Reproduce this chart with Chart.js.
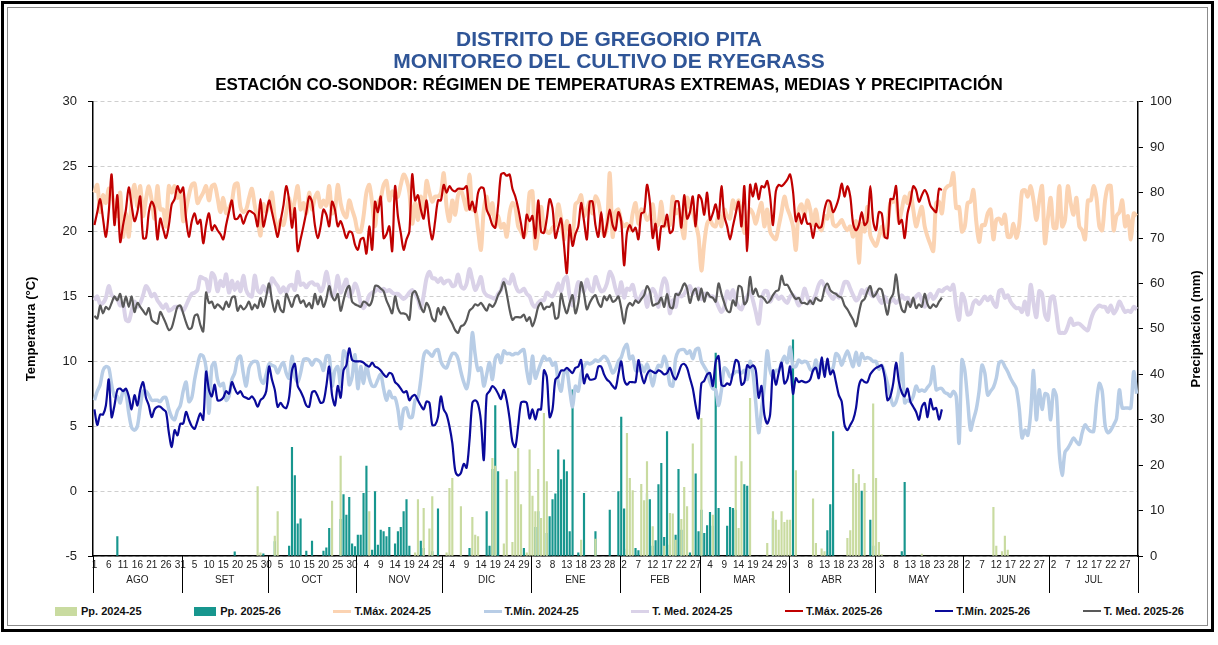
<!DOCTYPE html>
<html>
<head>
<meta charset="utf-8">
<script src="https://cdn.jsdelivr.net/npm/chart.js@4.4.1/dist/chart.umd.min.js"></script>
<style>
  html, body { margin: 0; padding: 0; background: #fff; }
  body { width: 1218px; height: 645px; position: relative; overflow: hidden; font-family: 'Liberation Sans', Arial, sans-serif; }
  .frame { position: absolute; left: 1px; top: 1px; width: 1207px; height: 625px; border: 3px solid #000; }
  .frame-inner { position: absolute; left: 3px; top: 3px; right: 3px; bottom: 3px; border: 1px solid #8c8c8c; }
  #chart { position: absolute; left: 0; top: 0; }
  #legend { position: absolute; left: 55px; right: 34px; top: 605px; display: flex; justify-content: space-between; align-items: center;
            font: bold 11px 'Liberation Sans Narrow', 'Liberation Sans', Arial, sans-serif; color: #111; }
  #legend .item { display: flex; align-items: center; white-space: nowrap; }
  #legend .sw-bar { display: inline-block; width: 22px; height: 9px; margin-right: 4px; }
  #legend .sw-line { display: inline-block; width: 18px; margin-right: 3px; }
</style>
</head>
<body>
<div class="frame"><div class="frame-inner"></div></div>
<canvas id="chart" width="1218" height="600"></canvas>
<div id="legend"></div>
<script>
const monthNames = ['AGO', 'SET', 'OCT', 'NOV', 'DIC', 'ENE', 'FEB', 'MAR', 'ABR', 'MAY', 'JUN', 'JUL'];
const monthDays = [31, 30, 31, 30, 31, 31, 28, 31, 30, 31, 30, 31];

// campaña 2024-25 (365 días, 1 ago - 31 jul)
const tMax24 = [
  23.0, 23.6, 21.5, 22.8, 22.2, 23.3, 23.0, 21.8, 21.2, 23.0,
  19.6, 21.4, 19.6, 22.4, 23.6, 21.9, 23.5, 21.2, 22.5, 23.5,
  22.4, 21.0, 23.5, 21.7, 21.7, 20.4, 23.5, 23.0, 23.5, 22.6,
  23.1, 20.8, 21.7, 22.8, 23.6, 23.7, 22.2, 22.6, 23.0, 23.5,
  22.4, 23.5, 23.6, 22.6, 21.5, 22.6, 21.4, 21.8, 22.3, 23.6,
  23.7, 21.9, 21.5, 21.7, 22.6, 23.3, 22.0, 20.9, 19.7, 22.1,
  21.5, 22.2, 23.0, 21.0, 20.0, 20.9, 20.5, 21.5, 22.6, 21.4,
  22.4, 23.5, 21.7, 22.2, 21.4, 23.0, 21.7, 22.6, 23.0, 21.9,
  22.4, 22.0, 23.5, 21.4, 21.7, 23.6, 22.2, 21.4, 21.1, 22.4,
  21.7, 21.0, 20.0, 20.0, 21.2, 23.0, 23.6, 22.2, 20.4, 22.2,
  22.6, 23.6, 23.9, 22.4, 23.1, 22.7, 22.7, 23.6, 24.4, 24.0,
  23.0, 20.6, 22.2, 20.9, 22.7, 21.4, 23.9, 23.0, 22.3, 22.7,
  22.7, 23.0, 24.5, 21.9, 20.8, 22.4, 21.3, 22.8, 23.2, 22.5,
  21.7, 24.4, 21.7, 21.7, 20.1, 18.6, 21.7, 22.7, 21.3, 22.2,
  20.4, 21.2, 20.3, 20.6, 19.6, 21.4, 22.2, 21.9, 20.4, 20.0,
  19.6, 20.4, 23.0, 23.1, 18.7, 19.9, 21.9, 20.4, 20.0, 19.9,
  20.3, 20.5, 22.1, 21.0, 19.4, 20.8, 20.0, 19.6, 22.1, 22.3,
  22.8, 21.2, 21.7, 22.3, 21.4, 22.7, 22.3, 21.0, 19.7, 20.4,
  24.5, 19.6, 21.5, 21.7, 20.8, 20.4, 20.6, 20.1, 21.4, 22.2,
  20.6, 21.7, 21.5, 20.9, 21.2, 22.1, 20.4, 20.6, 22.3, 20.4,
  20.6, 20.5, 22.7, 21.4, 21.7, 20.5, 19.5, 22.6, 21.9, 21.5,
  20.6, 19.6, 17.0, 19.1, 20.6, 20.9, 20.5, 20.4, 21.3, 20.4,
  21.7, 21.2, 21.0, 22.4, 21.7, 22.4, 21.2, 19.9, 21.0, 21.7,
  21.4, 20.6, 21.5, 22.2, 20.4, 21.7, 20.0, 19.6, 19.4, 20.4,
  21.5, 22.7, 21.8, 21.2, 20.4, 18.6, 21.7, 22.1, 21.2, 22.4,
  21.7, 20.5, 21.7, 20.4, 20.1, 21.2, 21.0, 22.2, 20.6, 20.4,
  20.6, 20.9, 20.4, 20.1, 20.4, 19.6, 20.8, 17.6, 20.6, 20.0,
  21.9, 19.7, 19.2, 18.9, 19.6, 20.4, 19.6, 20.5, 22.2, 22.3,
  22.4, 20.8, 21.7, 22.7, 22.2, 23.0, 21.7, 20.4, 21.2, 21.9,
  20.4, 19.6, 19.0, 18.5, 22.2, 22.3, 21.4, 23.2, 23.5, 23.6,
  24.5, 21.8, 21.9, 20.0, 20.4, 22.2, 22.3, 23.2, 20.8, 19.2,
  20.5, 20.5, 21.4, 21.7, 19.4, 20.9, 21.0, 20.6, 21.3, 19.6,
  19.6, 20.6, 19.5, 20.5, 23.1, 23.2, 22.7, 23.5, 22.4, 20.9,
  22.4, 23.5, 19.1, 21.0, 22.6, 20.3, 20.3, 23.5, 20.4, 20.9,
  23.5, 22.2, 21.3, 22.6, 20.4, 20.1, 19.4, 22.4, 22.4, 23.5,
  22.6, 20.4, 20.1, 22.4, 23.5, 23.5, 20.1, 21.2, 21.5, 22.4,
  20.4, 21.2, 19.4, 21.4, 21.2
];
const tMin24 = [
  7.0, 7.7, 8.2, 9.3, 9.6, 9.5, 8.2, 7.3, 7.3, 6.8,
  7.7, 7.5, 6.0, 4.9, 4.7, 5.0, 6.5, 7.7, 7.7, 7.4,
  7.0, 7.0, 7.0, 6.9, 7.2, 7.2, 6.3, 5.7, 5.5, 6.2,
  6.6, 7.7, 8.4, 6.9, 7.2, 8.6, 9.7, 10.5, 10.4, 9.5,
  6.0, 9.6, 9.9, 8.6, 8.1, 8.3, 7.0, 7.3, 8.6, 9.1,
  10.2, 10.4, 9.1, 8.1, 9.5, 9.9, 10.0, 9.9, 8.7, 8.3,
  9.0, 9.8, 9.7, 9.6, 9.1, 9.6, 9.9, 9.1, 8.7, 10.4,
  8.8, 8.4, 9.1, 10.1, 10.2, 10.1, 9.7, 10.1, 10.1, 9.9,
  9.3, 10.4, 10.4, 8.1, 9.3, 9.6, 8.1, 10.8, 10.4, 8.2,
  8.8, 10.5, 7.9, 9.6, 8.3, 9.7, 8.7, 8.1, 8.1, 8.6,
  9.0, 7.9, 7.0, 7.7, 7.2, 7.2, 6.3, 4.8, 6.3, 6.4,
  5.7, 5.7, 7.0, 7.2, 8.6, 10.4, 10.8, 10.6, 10.4, 10.8,
  10.9, 10.0, 9.6, 9.5, 10.1, 10.6, 10.6, 10.2, 9.2, 8.4,
  7.9, 9.1, 12.2, 10.5, 9.3, 9.5, 8.1, 9.0, 9.9, 8.6,
  10.2, 10.5, 9.9, 10.8, 10.6, 10.6, 10.5, 10.6, 10.6, 10.8,
  10.9, 9.3, 8.3, 10.4, 8.7, 9.3, 9.9, 10.4, 10.1, 10.2,
  9.7, 9.9, 8.4, 7.7, 9.1, 9.3, 7.8, 6.5, 8.1, 7.7,
  9.1, 9.6, 9.9, 9.8, 9.9, 10.1, 10.0, 10.2, 10.4, 10.2,
  9.7, 9.1, 9.4, 10.0, 10.3, 11.0, 11.3, 10.2, 10.4, 9.3,
  9.3, 9.7, 9.2, 9.8, 9.1, 8.1, 9.1, 9.7, 9.6, 10.4,
  9.7, 8.2, 8.1, 10.2, 10.8, 10.9, 10.9, 10.6, 10.8, 10.2,
  10.9, 11.0, 10.0, 9.6, 9.2, 8.4, 7.9, 7.8, 6.6, 7.8,
  9.5, 9.3, 8.8, 9.0, 9.2, 9.2, 9.1, 9.3, 8.6, 10.0,
  9.1, 6.8, 4.5, 6.3, 8.1, 10.8, 9.3, 8.8, 9.3, 9.3,
  9.9, 10.4, 9.9, 11.1, 9.6, 9.6, 10.1, 9.9, 10.0, 9.9,
  9.4, 9.3, 10.1, 9.0, 10.0, 9.3, 9.7, 9.3, 9.5, 10.6,
  10.4, 9.7, 10.3, 10.8, 10.2, 9.6, 10.7, 9.7, 10.6, 10.2,
  10.3, 10.2, 10.0, 10.0, 9.4, 9.7, 9.1, 8.3, 7.3, 6.6,
  6.9, 7.8, 10.6, 6.8, 7.0, 6.9, 7.3, 8.1, 7.7, 7.8,
  7.7, 8.0, 8.3, 9.6, 7.8, 7.9, 7.9, 7.6, 7.5, 7.3,
  7.7, 7.3, 3.7, 10.1, 9.3, 7.0, 4.7, 5.5, 6.3, 7.7,
  9.7, 9.1, 7.4, 7.7, 8.0, 8.7, 9.9, 10.0, 9.6, 9.2,
  8.7, 8.3, 7.9, 6.4, 4.1, 4.7, 4.3, 6.0, 9.3, 5.5,
  7.8, 6.3, 7.5, 7.4, 5.5, 7.8, 7.3, 3.0, 1.2, 3.0,
  3.3, 3.7, 4.1, 3.8, 3.6, 4.5, 5.1, 4.8, 4.6, 4.6,
  6.8, 8.3, 7.7, 5.1, 4.5, 4.7, 5.1, 5.6, 7.8, 6.4,
  6.4, 6.4, 6.4, 9.2, 7.5
];
const tMed24 = [
  14.7, 15.0, 14.4, 14.5, 14.9, 15.8, 15.1, 14.9, 14.8, 14.3,
  14.4, 13.2, 13.1, 13.9, 14.6, 14.2, 14.5, 15.1, 15.8, 15.5,
  15.0, 15.2, 14.7, 14.4, 14.1, 14.4, 13.9, 14.0, 14.2, 14.2,
  14.2, 13.9, 14.3, 14.8, 15.2, 15.3, 15.5, 16.5, 16.4, 16.3,
  15.4, 16.8, 16.5, 15.4, 16.2, 15.8, 16.7, 15.3, 16.2, 15.5,
  16.1, 15.4, 16.6, 15.5, 15.1, 15.0, 16.6, 15.5, 15.3, 15.8,
  15.4, 15.4, 16.4, 16.1, 15.8, 15.3, 15.7, 15.3, 15.8, 15.9,
  15.5, 16.9, 15.9, 16.0, 15.7, 16.0, 16.1, 15.9, 15.9, 15.4,
  15.8, 16.9, 15.9, 15.0, 15.4, 16.6, 15.3, 15.8, 16.3, 15.0,
  15.3, 16.0, 15.5, 14.5, 14.1, 14.5, 15.1, 15.3, 15.4, 15.6,
  15.4, 15.6, 15.4, 15.5, 15.3, 15.2, 15.2, 15.0, 14.8, 15.0,
  15.3, 15.5, 15.2, 14.8, 14.1, 15.1, 16.4, 16.9, 16.4, 16.4,
  16.1, 16.4, 16.0, 16.2, 16.2, 15.8, 15.9, 16.7, 15.8, 15.6,
  16.0, 17.1, 16.3, 15.5, 15.9, 16.5, 15.4, 15.1, 15.0, 14.9,
  14.8, 15.2, 15.5, 16.3, 16.1, 16.0, 16.7, 15.9, 15.4, 15.4,
  15.6, 15.2, 15.0, 14.4, 14.2, 14.5, 14.7, 14.7, 15.3, 15.1,
  15.0, 15.4, 16.0, 15.4, 16.3, 16.5, 15.0, 14.3, 15.2, 16.1,
  15.8, 15.4, 16.3, 15.6, 15.4, 16.5, 15.9, 15.4, 15.5, 16.0,
  16.9, 16.5, 15.6, 15.1, 16.1, 14.9, 15.6, 15.5, 15.9, 15.0,
  14.6, 15.1, 15.4, 14.2, 15.2, 15.6, 15.2, 14.2, 15.6, 16.4,
  15.9, 13.7, 14.7, 14.2, 15.2, 15.0, 15.2, 15.6, 15.8, 15.2,
  15.4, 15.6, 14.8, 15.2, 15.2, 15.0, 15.0, 14.7, 14.2, 13.8,
  14.2, 15.4, 14.8, 15.5, 14.7, 14.2, 14.0, 14.6, 15.0, 15.4,
  14.7, 13.8, 12.9, 14.7, 15.4, 15.4, 14.6, 15.0, 15.1, 14.8,
  15.0, 14.7, 14.5, 15.0, 15.1, 14.8, 14.3, 14.7, 15.6, 15.0,
  14.5, 14.7, 15.2, 15.9, 16.2, 15.8, 15.4, 15.1, 14.8, 15.2,
  14.9, 15.4, 16.1, 16.1, 15.6, 15.1, 14.7, 14.9, 15.5, 15.2,
  15.6, 15.2, 15.0, 15.3, 14.8, 14.5, 15.0, 14.6, 14.6, 14.8,
  14.5, 14.7, 15.1, 14.8, 14.9, 14.5, 14.7, 15.0, 15.2, 14.7,
  14.2, 14.8, 15.2, 14.8, 15.1, 15.5, 15.4, 15.6, 15.7, 15.5,
  15.9, 14.2, 13.2, 15.2, 14.7, 13.6, 13.7, 14.5, 14.7, 14.4,
  14.7, 15.0, 14.7, 15.0, 14.5, 14.2, 15.4, 15.5, 14.9, 15.1,
  14.6, 14.3, 14.1, 14.1, 13.8, 14.6, 13.6, 15.9, 14.5, 13.4,
  15.4, 15.2, 13.6, 13.2, 14.9, 15.0, 13.7, 12.2, 12.2, 12.2,
  12.7, 13.3, 12.8, 12.9, 12.9, 12.7, 12.5, 12.4, 13.2, 13.8,
  14.1, 14.3, 14.2, 14.2, 13.8, 14.3, 13.7, 14.0, 14.6, 14.2,
  13.8, 13.9, 13.8, 14.2, 14.0
];

// campaña 2025-26 (1 ago - 24 may)
const tMax25 = [
  20.5, 21.5, 22.5, 21.0, 19.6, 21.5, 24.4, 20.5, 22.8, 19.2,
  20.5, 21.7, 23.4, 22.0, 20.8, 21.5, 22.7, 19.5, 19.5, 21.5,
  22.3, 21.8, 19.4, 21.0, 20.2, 19.5, 20.5, 22.1, 22.5, 23.5,
  23.0, 23.4, 21.0, 19.6, 20.8, 21.4, 20.6, 20.9, 19.1, 20.5,
  21.4, 20.1, 20.5, 20.1, 19.8, 19.4, 20.5, 21.5, 22.4, 21.0,
  21.0, 21.3, 20.6, 21.2, 21.6, 21.5, 21.3, 20.4, 22.5, 20.4,
  21.3, 22.4, 21.5, 20.5, 19.6, 20.8, 22.0, 23.5, 22.4, 20.3,
  21.8, 18.5, 19.4, 20.4, 21.5, 22.7, 22.3, 20.5, 19.5, 20.4,
  21.7, 21.3, 20.4, 22.3, 21.7, 20.4, 20.8, 20.2, 19.5, 20.0,
  19.9, 19.0, 18.6, 19.4, 19.5, 18.3, 20.4, 18.6, 22.3, 21.5,
  22.7, 19.5, 19.8, 20.4, 18.5, 23.5, 21.2, 19.9, 18.6, 19.4,
  20.0, 24.4, 22.4, 22.8, 21.7, 21.0, 22.4, 20.5, 19.4, 20.8,
  22.4, 22.4, 23.6, 23.0, 23.5, 23.2, 23.1, 23.3, 23.3, 23.3,
  23.5, 21.7, 22.3, 21.5, 23.0, 23.4, 23.3, 21.7, 21.2, 20.5,
  20.3, 22.0, 24.4, 24.5, 24.3, 24.4, 23.3, 22.7, 21.8, 20.6,
  19.5, 21.3, 20.8, 21.2, 19.5, 22.4, 20.0, 19.9, 21.0, 22.5,
  21.8, 19.5, 20.3, 21.0, 19.0, 16.8, 20.5, 18.9, 19.8, 20.4,
  22.2, 20.8, 19.4, 22.3, 22.3, 20.5, 19.6, 21.5, 19.6, 20.5,
  21.7, 20.5, 20.1, 21.5, 20.8, 17.4, 19.9, 20.5, 20.0, 20.3,
  19.4, 21.4, 21.5, 23.6, 22.3, 19.5, 20.6, 18.6, 20.4, 20.4,
  21.3, 19.9, 20.1, 22.3, 22.3, 20.3, 22.8, 21.0, 21.5, 22.7,
  20.4, 22.8, 22.5, 21.3, 23.0, 20.9, 21.4, 22.1, 21.0, 23.5,
  21.2, 20.4, 19.4, 20.4, 21.4, 22.3, 20.4, 23.5, 18.5, 23.6,
  22.7, 23.7, 22.5, 23.5, 23.4, 23.9, 22.7, 20.5, 23.1, 23.6,
  23.5, 23.7, 24.0, 24.4, 23.1, 20.8, 21.4, 20.6, 21.4, 20.6,
  20.6, 19.5, 20.6, 20.3, 20.4, 21.7, 22.4, 22.3, 21.5, 21.9,
  22.6, 23.7, 22.7, 23.5, 22.7, 20.6, 20.1, 20.5, 21.5, 20.5,
  20.8, 23.5, 20.8, 20.1, 21.5, 21.4, 19.6, 19.5, 22.5, 22.5,
  23.5, 20.6, 20.9, 19.5, 21.4, 22.3, 23.5, 23.2, 22.3, 22.8,
  23.2, 22.8, 22.0, 21.7, 21.5, 23.3, 23.2
];
const tMin25 = [
  6.3, 5.1, 5.9, 5.9, 6.6, 8.6, 5.7, 6.6, 7.8, 7.9,
  7.7, 7.9, 7.3, 6.3, 7.4, 6.6, 7.8, 8.4, 7.2, 6.6,
  5.7, 6.3, 6.5, 6.5, 6.3, 6.1, 4.5, 3.4, 4.7, 4.3,
  5.2, 5.2, 6.1, 5.5, 5.0, 4.8, 5.4, 6.0, 5.5, 9.2,
  7.8, 7.3, 8.2, 7.0, 7.0, 7.2, 7.7, 7.5, 8.4, 7.9,
  7.5, 7.7, 7.3, 7.2, 7.1, 7.3, 7.0, 6.5, 7.0, 7.2,
  7.7, 9.6, 8.6, 7.8, 6.5, 6.8, 6.5, 6.4, 7.2, 9.3,
  9.8, 8.1, 7.7, 7.2, 6.6, 6.5, 7.6, 7.7, 7.3, 6.8,
  6.9, 8.1, 9.6, 7.4, 6.6, 8.1, 7.2, 9.3, 9.7, 11.0,
  10.1, 10.0, 10.0, 10.0, 9.9, 9.7, 9.6, 9.9, 9.6, 9.5,
  9.3, 9.0, 8.8, 9.1, 9.0, 8.4, 8.2, 7.9, 7.6, 7.7,
  7.0, 7.3, 7.4, 7.0, 6.6, 6.3, 6.9, 6.8, 5.1, 5.1,
  5.7, 7.3, 6.3, 5.9, 5.0, 3.7, 1.6, 1.2, 1.4, 2.1,
  1.8, 3.9, 6.8, 7.0, 6.7, 5.4, 2.4, 7.4, 7.7, 8.1,
  7.9, 7.5, 7.1, 7.8, 7.0, 5.6, 3.8, 3.4, 5.0, 6.8,
  6.9, 6.8, 5.6, 6.3, 5.5, 6.3, 6.3, 9.3, 8.8, 5.7,
  6.3, 8.6, 8.8, 9.3, 9.3, 9.5, 9.3, 9.1, 9.5, 9.6,
  10.1, 8.3, 9.0, 8.6, 8.6, 8.7, 9.6, 9.6, 9.0, 8.6,
  8.4, 8.1, 7.9, 9.0, 10.0, 8.6, 8.2, 8.4, 8.4, 8.4,
  10.1, 9.0, 8.3, 9.0, 9.3, 9.2, 9.1, 9.3, 9.2, 9.0,
  9.1, 9.5, 8.9, 8.6, 9.1, 9.7, 9.8, 9.5, 8.7, 7.9,
  6.6, 5.6, 8.3, 8.5, 9.0, 9.1, 8.1, 10.0, 10.4, 8.2,
  8.1, 8.3, 8.2, 9.1, 10.1, 9.9, 8.2, 8.4, 9.7, 9.5,
  9.7, 9.3, 7.2, 8.1, 5.9, 5.2, 5.9, 9.3, 8.2, 9.1,
  9.9, 8.3, 8.6, 9.6, 7.5, 8.7, 8.4, 8.5, 8.4, 8.4,
  8.6, 9.3, 9.5, 8.7, 10.3, 8.8, 10.2, 9.0, 9.3, 8.4,
  7.4, 6.9, 5.1, 4.7, 5.1, 5.5, 6.4, 8.1, 8.6, 8.4,
  8.4, 9.0, 9.3, 9.5, 9.6, 9.7, 8.8, 7.0, 7.3, 8.3,
  9.9, 8.4, 7.6, 7.3, 7.9, 6.9, 6.5, 6.1, 5.5, 6.5,
  6.8, 5.7, 7.1, 6.3, 6.4, 5.5, 6.3
];
const tMed25 = [
  13.5, 13.3, 14.3, 13.7, 14.2, 14.0, 14.5, 15.0, 14.7, 15.2,
  14.2, 15.0, 14.2, 15.0, 13.8, 14.5, 14.2, 13.9, 13.6, 14.1,
  13.2, 13.0, 12.9, 13.8, 13.4, 12.9, 12.4, 12.6, 13.4, 14.2,
  14.3, 13.7, 13.0, 12.5, 12.6, 13.5, 13.6, 12.8, 12.3, 15.3,
  14.5, 14.6, 14.1, 14.4, 14.2, 14.0, 14.6, 14.2, 14.9, 15.0,
  13.9, 14.3, 14.0, 14.2, 14.6, 14.0, 14.4, 14.1, 14.9, 14.2,
  15.0, 16.0, 14.7, 13.8, 14.7, 14.0, 13.8, 15.2, 14.7, 14.2,
  14.9, 15.1, 14.5, 14.7, 14.2, 14.5, 14.1, 15.2, 14.4, 15.0,
  14.2, 14.8, 15.8, 15.0, 14.7, 15.2, 13.9, 14.7, 15.5, 15.8,
  14.6, 14.4, 14.3, 14.2, 14.6, 14.5, 14.3, 14.7, 15.8, 15.8,
  15.6, 15.4, 14.7, 14.2, 13.7, 15.0, 14.1, 13.7, 13.7, 13.6,
  13.2, 15.2, 15.4, 14.9, 14.2, 13.8, 14.5, 14.1, 13.3, 13.1,
  14.1, 13.6, 14.2, 13.8, 13.3, 12.9, 12.4, 12.2, 12.7, 12.8,
  13.2, 13.9, 14.1, 14.4, 14.3, 14.5, 14.2, 13.9, 14.4, 14.2,
  14.5, 15.1, 15.5, 16.1, 15.2, 14.0, 13.2, 13.4, 13.4, 13.4,
  13.6, 13.1, 13.4, 12.7, 13.3, 14.2, 14.5, 14.0, 14.2, 14.2,
  14.5, 13.3, 13.4, 15.2, 14.3, 13.7, 14.5, 15.1, 13.7, 14.5,
  16.1, 15.2, 14.0, 14.5, 14.9, 15.1, 14.5, 14.2, 15.0, 14.7,
  15.1, 14.6, 14.7, 15.0, 14.1, 12.9, 14.1, 14.5, 14.3, 14.7,
  14.5, 14.8, 15.1, 15.8, 15.4, 14.3, 14.4, 14.5, 14.9, 14.2,
  15.2, 14.2, 14.1, 15.2, 15.1, 15.5, 16.0, 15.6, 14.5, 15.3,
  15.6, 14.7, 15.6, 14.6, 15.3, 15.0, 14.9, 14.6, 16.0, 15.2,
  14.5, 13.9, 13.8, 14.7, 14.3, 15.8, 15.7, 14.4, 14.7, 16.5,
  15.2, 15.6, 15.0, 15.0, 14.8, 14.5, 14.7, 15.1, 15.4, 15.5,
  16.6, 15.9, 15.9, 15.5, 15.1, 14.8, 14.9, 14.5, 14.5, 14.4,
  14.7, 14.4, 14.9, 14.7, 14.7, 15.6, 16.0, 15.5, 15.3, 15.2,
  15.0, 14.9, 14.3, 14.0, 13.6, 13.2, 12.7, 13.7, 14.6, 14.8,
  15.4, 15.8, 15.0, 15.2, 15.6, 15.5, 14.5, 13.6, 14.8, 15.2,
  16.7, 15.0, 14.0, 13.8, 14.6, 14.2, 14.9, 14.1, 14.4, 14.2,
  15.2, 14.4, 14.1, 14.4, 14.2, 14.6, 14.9
];

// precipitación: día de campaña (0 = 1 ago) y lámina en mm
const ppDays24 = [57, 58, 63, 64, 83, 86, 96, 112, 113, 115, 117, 118, 123, 124, 125, 128, 132, 133, 134, 139,
  140, 143, 144, 146, 147, 148, 149, 151, 152, 153, 154, 155, 156, 157, 158, 170, 175, 186, 187, 188,
  191, 192, 193, 195, 199, 201, 202, 203, 205, 206, 207, 209, 212, 216, 224, 225, 226, 229, 235, 237,
  238, 239, 240, 241, 242, 243, 245, 251, 252, 254, 255, 263, 264, 265, 266, 267, 269, 272, 273, 274,
  275, 289, 314, 315, 317, 318, 319];
const ppVals24 = [15.3, 0.7, 4.4, 9.8, 12.1, 22.0, 9.8, 0.7, 12.4, 10.5, 6.0, 13.1, 0.7, 14.9, 17.1, 10.9, 8.5, 4.6, 4.3, 21.5,
  19.8, 2.7, 16.8, 3.0, 18.6, 23.7, 11.3, 0.7, 23.4, 13.2, 9.8, 19.1, 8.3, 31.4, 16.4, 3.5, 3.7, 27.0, 17.1, 14.4,
  15.8, 12.2, 20.8, 6.5, 2.2, 9.4, 9.3, 3.5, 8.1, 15.1, 10.9, 24.7, 30.3, 9.0, 22.0, 6.1, 20.8, 34.7, 2.8, 9.8,
  7.9, 5.7, 9.8, 7.4, 7.9, 7.9, 18.8, 12.6, 2.8, 1.6, 1.0, 3.9, 5.6, 19.1, 16.0, 17.9, 16.0, 33.5, 17.1, 3.0,
  0.3, 0.4, 10.7, 2.2, 1.0, 4.4, 1.3];
const ppDays25 = [8, 49, 59, 63, 68, 69, 70, 71, 72, 74, 76, 80, 81, 82, 86, 87, 88, 89, 90, 91,
  92, 93, 94, 95, 97, 98, 99, 100, 101, 102, 103, 105, 106, 107, 108, 109, 110, 114, 115, 118,
  120, 131, 137, 138, 139, 140, 141, 150, 154, 155, 158, 159, 160, 161, 162, 163, 164, 165, 166, 167,
  169, 171, 175, 180, 183, 184, 185, 186, 189, 190, 193, 194, 195, 196, 197, 198, 199, 200, 201, 203,
  204, 205, 208, 210, 211, 212, 213, 214, 215, 216, 217, 218, 221, 222, 223, 224, 227, 228, 237, 244,
  256, 257, 258, 268, 271, 272, 282, 283];
const ppVals25 = [4.3, 0.9, 0.5, 3.2, 2.2, 23.9, 17.7, 7.1, 8.2, 1.1, 3.3, 1.1, 1.8, 6.1, 8.1, 13.5, 9.0, 12.9, 2.7, 2.1,
  4.6, 4.6, 13.8, 19.8, 1.3, 14.2, 2.4, 5.7, 5.4, 4.3, 6.3, 2.7, 5.4, 6.3, 9.8, 12.4, 2.2, 3.3, 1.7, 1.0,
  10.4, 1.7, 9.8, 2.2, 19.1, 33.1, 18.6, 1.7, 6.3, 9.8, 5.0, 8.7, 12.4, 13.7, 23.4, 16.8, 21.2, 18.6, 5.4, 36.6,
  0.7, 13.8, 5.4, 10.1, 14.2, 30.6, 10.4, 1.5, 1.7, 1.2, 13.7, 12.4, 2.2, 3.4, 15.7, 20.4, 4.1, 27.4, 2.4, 4.6,
  19.1, 5.7, 0.7, 18.1, 5.4, 10.1, 5.0, 6.7, 9.6, 6.6, 44.7, 10.5, 6.6, 10.7, 10.5, 10.1, 15.7, 15.4, 8.3, 47.6,
  5.6, 11.3, 27.4, 14.3, 7.9, 2.2, 1.0, 16.2];

const fontFamily = "'Liberation Sans', Arial, sans-serif";

// etiquetas diarias (día del mes) y límites de cada mes
const dayLabels = [];
const monthStart = [];
monthDays.forEach(n => {
  monthStart.push(dayLabels.length);
  for (let d = 1; d <= n; d++) dayLabels.push(String(d));
});

function toDaily(days, vals) {
  const out = new Array(dayLabels.length).fill(null);
  days.forEach((d, i) => { out[d] = vals[i]; });
  return out;
}

const monthAxis = {
  id: 'monthAxis',
  afterDraw(chart) {
    const xs = chart.scales.x;
    const area = chart.chartArea;
    const ctx = chart.ctx;
    const w = xs.getPixelForValue(1) - xs.getPixelForValue(0);
    const edge = i => xs.getPixelForValue(i) - w / 2;
    const bounds = monthStart.concat([dayLabels.length]);
    ctx.save();
    ctx.strokeStyle = '#000';
    ctx.lineWidth = 1;
    bounds.forEach(b => {
      const px = Math.round(edge(b)) + 0.5;
      ctx.beginPath();
      ctx.moveTo(px, area.bottom);
      ctx.lineTo(px, area.bottom + 37);
      ctx.stroke();
    });
    ctx.fillStyle = '#222';
    ctx.font = '10px ' + fontFamily;
    ctx.textAlign = 'center';
    ctx.textBaseline = 'middle';
    monthNames.forEach((m, i) => {
      ctx.fillText(m, (edge(bounds[i]) + edge(bounds[i + 1])) / 2, area.bottom + 24);
    });
    ctx.restore();
  }
};

const rightTitle = {
  id: 'rightTitle',
  afterDraw(chart) {
    const s = chart.scales.yP;
    const ctx = chart.ctx;
    ctx.save();
    ctx.translate(s.right - 12, (s.top + s.bottom) / 2);
    ctx.rotate(-Math.PI / 2);
    ctx.font = 'bold 13px ' + fontFamily;
    ctx.fillStyle = '#000';
    ctx.textAlign = 'center';
    ctx.textBaseline = 'middle';
    ctx.fillText('Precipitación (mm)', 0, 0);
    ctx.restore();
  }
};

function lineSet(label, data, color, width, order) {
  return {
    type: 'line', label, data, yAxisID: 'yT',
    borderColor: color, backgroundColor: color, borderWidth: width,
    pointRadius: 0, tension: 0.3, fill: false, order
  };
}

Chart.defaults.font.family = fontFamily;

const chart = new Chart(document.getElementById('chart'), {
  data: {
    labels: dayLabels,
    datasets: [
      { type: 'bar', label: 'Pp. 2024-25', data: toDaily(ppDays24, ppVals24), yAxisID: 'yP',
        backgroundColor: '#C9DBA0', barThickness: 1.5, grouped: false, order: 3 },
      { type: 'bar', label: 'Pp. 2025-26', data: toDaily(ppDays25, ppVals25), yAxisID: 'yP',
        backgroundColor: '#17968E', barThickness: 1.5, grouped: false, order: 3 },
      lineSet('T.Máx. 2024-25', tMax24, '#FBD3B2', 4, 2),
      lineSet('T.Mín. 2024-25', tMin24, '#B8CDE6', 3.5, 2),
      lineSet('T. Med. 2024-25', tMed24, '#DAD2E8', 4, 2),
      lineSet('T.Máx. 2025-26', tMax25, '#C00000', 2.2, 1),
      lineSet('T.Mín. 2025-26', tMin25, '#0A0A9A', 2.2, 1),
      lineSet('T. Med. 2025-26', tMed25, '#595959', 2.2, 1)
    ]
  },
  options: {
    responsive: false,
    animation: false,
    layout: { padding: { left: 10, right: 10, top: 0, bottom: 0 } },
    plugins: {
      legend: { display: false },
      tooltip: { enabled: false },
      title: {
        display: true,
        text: ['DISTRITO DE GREGORIO PITA', 'MONITOREO DEL CULTIVO DE RYEGRASS'],
        color: '#2F5597',
        font: { size: 21, weight: 'bold', lineHeight: 1.05 },
        padding: { top: 29, bottom: 0 }
      },
      subtitle: {
        display: true,
        text: 'ESTACIÓN CO-SONDOR: RÉGIMEN DE TEMPERATURAS EXTREMAS, MEDIAS Y PRECIPITACIÓN',
        color: '#000',
        font: { size: 17, weight: 'bold', lineHeight: 1.1 },
        padding: { top: 3, bottom: 7 }
      }
    },
    scales: {
      x: {
        type: 'category',
        offset: true,
        grid: { display: false, drawTicks: false },
        border: { display: true, color: '#000', width: 1.5 },
        ticks: {
          autoSkip: false, maxRotation: 0, minRotation: 0, padding: 3,
          color: '#222', font: { size: 10 },
          callback: function (v) { return this.getLabelForValue(v); }
        },
        afterBuildTicks: s => { s.ticks = s.ticks.filter(t => t.value % 5 === 0); },
        afterFit: s => { s.height = 44; }
      },
      yT: {
        type: 'linear', position: 'left', min: -5, max: 30,
        ticks: { stepSize: 5, padding: 11, color: '#222', font: { size: 13 } },
        grid: { color: '#cfcfcf', drawTicks: true, tickLength: 5, tickColor: '#000' },
        border: { display: true, color: '#000', width: 1.5, dash: [4, 3] },
        title: { display: true, text: 'Temperatura (°C)', color: '#000', font: { size: 13, weight: 'bold' }, padding: { top: 14, bottom: 0 } },
        afterFit: s => { s.width = 83; }
      },
      yP: {
        type: 'linear', position: 'right', min: 0, max: 100,
        ticks: { stepSize: 10, padding: 7, color: '#222', font: { size: 13 } },
        grid: { drawOnChartArea: false, drawTicks: true, tickLength: 5, tickColor: '#000' },
        border: { display: true, color: '#000', width: 1.5 },
        afterFit: s => { s.width = 70; }
      }
    }
  },
  plugins: [monthAxis, rightTitle]
});

// leyenda en HTML, generada desde los datasets
const legendBox = document.getElementById('legend');
chart.data.datasets.forEach(ds => {
  const item = document.createElement('div');
  item.className = 'item';
  const sw = document.createElement('span');
  if (ds.type === 'bar') {
    sw.className = 'sw-bar';
    sw.style.background = ds.backgroundColor;
  } else {
    sw.className = 'sw-line';
    sw.style.background = ds.borderColor;
    sw.style.height = Math.min(ds.borderWidth, 3) + 'px';
  }
  item.appendChild(sw);
  item.appendChild(document.createTextNode(ds.label));
  legendBox.appendChild(item);
});
</script>
</body>
</html>
